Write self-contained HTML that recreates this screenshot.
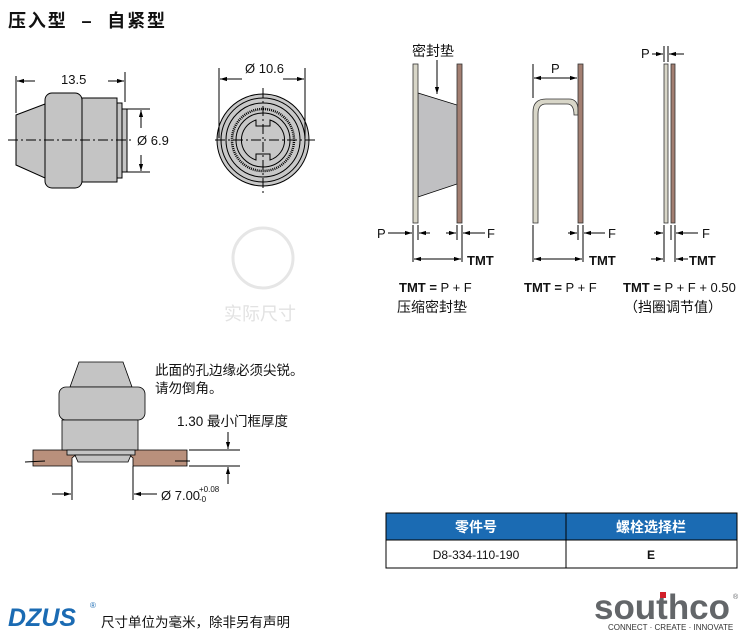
<!DOCTYPE html>
<html><head><meta charset="utf-8"><style>
html,body{margin:0;padding:0;background:#fff}
svg{display:block}
text{font-family:"Liberation Sans","Noto Sans CJK SC",sans-serif;fill:#111}
</style></head><body>
<svg width="747" height="644" viewBox="0 0 747 644" xmlns="http://www.w3.org/2000/svg">
<defs>
<marker id="a" viewBox="0 0 10 10" refX="10" refY="5" markerWidth="7" markerHeight="7" orient="auto-start-reverse"><path d="M0,2 L10,5 L0,8z" fill="#000"/></marker>
</defs>
<text x="8" y="27" font-size="18" font-weight="bold" textLength="157" lengthAdjust="spacing">压入型 &#160;– &#160;自紧型</text>

<!-- side view -->
<g stroke="#000" stroke-width="1" fill="#c4c4c4">
<path d="M16,115 L45,104 L45,178 L16,165 Z"/>
<rect x="45" y="93" width="37" height="95" rx="7"/>
<rect x="82" y="98" width="35" height="84"/>
<rect x="117" y="103" width="5" height="75"/>
<rect x="122" y="109" width="5" height="63"/>
</g>
<g stroke="#000" stroke-width="1" fill="none">
<line x1="8" y1="140" x2="133" y2="140" stroke-dasharray="10,3,2,3"/>
<line x1="16" y1="76" x2="16" y2="113"/><line x1="125" y1="72" x2="125" y2="102"/>
<line x1="35" y1="81" x2="17" y2="81" marker-end="url(#a)"/>
<line x1="108" y1="81" x2="124" y2="81" marker-end="url(#a)"/>
<line x1="127" y1="109" x2="150" y2="109"/><line x1="127" y1="172" x2="150" y2="172"/>
<line x1="141" y1="128" x2="141" y2="110" marker-end="url(#a)"/>
<line x1="141" y1="155" x2="141" y2="171" marker-end="url(#a)"/>
</g>
<text x="61" y="84" font-size="13">13.5</text>
<text x="137" y="145" font-size="13">Ø 6.9</text>

<!-- front view -->
<g stroke="#000" fill="#c8c8c8" stroke-width="1">
<circle cx="263" cy="140" r="46"/>
<circle cx="263" cy="140" r="42" fill="none"/>
<circle cx="263" cy="140" r="37" fill="none"/>
<circle cx="263" cy="140" r="31" fill="none" stroke-width="2.5" stroke-dasharray="1,1"/>
<circle cx="263" cy="140" r="27" fill="none"/>
<path d="M256,120 L256,126 L270,126 L270,120 A21,21 0 0 1 270,160 L270,154 L256,154 L256,160 A21,21 0 0 1 256,120 Z"/>
</g>
<g stroke="#000" fill="none">
<line x1="215" y1="140" x2="316" y2="140" stroke-dasharray="10,3,2,3"/>
<line x1="263" y1="88" x2="263" y2="195" stroke-dasharray="10,3,2,3"/>
<line x1="219" y1="68" x2="219" y2="138"/><line x1="305" y1="68" x2="305" y2="138"/>
<line x1="242" y1="79" x2="220" y2="79" marker-end="url(#a)"/>
<line x1="283" y1="79" x2="304" y2="79" marker-end="url(#a)"/>
</g>
<text x="245" y="73" font-size="13">Ø 10.6</text>

<!-- watermark -->
<circle cx="263" cy="258" r="30" fill="none" stroke="#e6e6e6" stroke-width="3"/>
<text x="224" y="320" font-size="18" style="fill:#e2e2e2">实际尺寸</text>

<!-- diagram 1 -->
<path d="M418,93 L457,105 L457,184 L418,197 Z" fill="#c0c0c2" stroke="#000" stroke-width="0.8"/>
<rect x="413" y="64" width="5" height="159" fill="#d8d6c8" stroke="#333" stroke-width="0.8"/>
<rect x="457" y="64" width="5" height="159" fill="#a37f72" stroke="#333" stroke-width="0.8"/>
<text x="412" y="56" font-size="14">密封垫</text>
<line x1="437" y1="60" x2="437" y2="94" stroke="#000" marker-end="url(#a)"/>
<g stroke="#000" fill="none">
<line x1="413" y1="225" x2="413" y2="262"/><line x1="418" y1="225" x2="418" y2="240"/>
<line x1="457" y1="225" x2="457" y2="240"/><line x1="462" y1="225" x2="462" y2="262"/>
<line x1="388" y1="233" x2="412" y2="233" marker-end="url(#a)"/>
<line x1="430" y1="233" x2="419" y2="233" marker-end="url(#a)"/>
<line x1="446" y1="233" x2="456" y2="233" marker-end="url(#a)"/>
<line x1="485" y1="233" x2="463" y2="233" marker-end="url(#a)"/>
<line x1="414" y1="259" x2="461" y2="259" marker-start="url(#a)" marker-end="url(#a)"/>
</g>
<text x="377" y="238" font-size="13">P</text>
<text x="487" y="238" font-size="13">F</text>
<text x="467" y="265" font-size="13" font-weight="bold">TMT</text>
<text x="399" y="292" font-size="13"><tspan font-weight="bold">TMT =</tspan> P + F</text>
<text x="397" y="312" font-size="14">压缩密封垫</text>

<!-- diagram 2 -->
<path d="M533,223 L533,112 Q533,99 546,99 L569,99 Q578,99 578,110 L578,115 L574,115 Q574,104 567,104 L546,104 Q538,104 538,114 L538,223 Z" fill="#d8d6c8" stroke="#333" stroke-width="0.8"/>
<rect x="578" y="64" width="5" height="159" fill="#a37f72" stroke="#333" stroke-width="0.8"/>
<g stroke="#000" fill="none">
<line x1="533" y1="64" x2="533" y2="98"/>
<line x1="534" y1="78" x2="577" y2="78" marker-start="url(#a)" marker-end="url(#a)"/>
<line x1="533" y1="225" x2="533" y2="262"/>
<line x1="578" y1="225" x2="578" y2="240"/><line x1="583" y1="225" x2="583" y2="262"/>
<line x1="568" y1="233" x2="577" y2="233" marker-end="url(#a)"/>
<line x1="605" y1="233" x2="584" y2="233" marker-end="url(#a)"/>
<line x1="534" y1="259" x2="582" y2="259" marker-start="url(#a)" marker-end="url(#a)"/>
</g>
<text x="551" y="73" font-size="13">P</text>
<text x="608" y="238" font-size="13">F</text>
<text x="589" y="265" font-size="13" font-weight="bold">TMT</text>
<text x="524" y="292" font-size="13"><tspan font-weight="bold">TMT =</tspan> P + F</text>

<!-- diagram 3 -->
<rect x="664" y="64" width="4" height="159" fill="#d8d6c8" stroke="#333" stroke-width="0.8"/>
<rect x="671" y="64" width="4" height="159" fill="#a37f72" stroke="#333" stroke-width="0.8"/>
<g stroke="#000" fill="none">
<line x1="664" y1="46" x2="664" y2="62"/><line x1="668" y1="46" x2="668" y2="62"/>
<line x1="652" y1="54" x2="663" y2="54" marker-end="url(#a)"/>
<line x1="684" y1="54" x2="669" y2="54" marker-end="url(#a)"/>
<line x1="664" y1="225" x2="664" y2="262"/><line x1="671" y1="225" x2="671" y2="240"/>
<line x1="675" y1="225" x2="675" y2="262"/>
<line x1="654" y1="233" x2="663" y2="233" marker-end="url(#a)"/>
<line x1="698" y1="233" x2="676" y2="233" marker-end="url(#a)"/>
<line x1="651" y1="259" x2="663" y2="259" marker-end="url(#a)"/>
<line x1="688" y1="259" x2="676" y2="259" marker-end="url(#a)"/>
</g>
<text x="641" y="58" font-size="13">P</text>
<text x="702" y="238" font-size="13">F</text>
<text x="689" y="265" font-size="13" font-weight="bold">TMT</text>
<text x="623" y="292" font-size="13"><tspan font-weight="bold">TMT =</tspan> P + F + 0.50</text>
<text x="624" y="312" font-size="14">（挡圈调节值）</text>

<!-- installed view -->
<g stroke="#000" stroke-width="0.8">
<path d="M33,450 L187,450 L187,466 L133,466 L133,458 L128,454 L77,454 L72,458 L72,466 L33,466 Z" fill="#b9907c"/>
<path d="M79,362 L123,362 L132,387 L70,387 Z" fill="#c4c4c4"/>
<rect x="59" y="387" width="86" height="33" rx="7" fill="#c4c4c4"/>
<rect x="62" y="420" width="76" height="30" fill="#c4c4c4"/>
<rect x="67" y="450" width="68" height="5" fill="#c4c4c4"/>
<path d="M75,455 L131,455 L128,462 L78,462 Z" fill="#c4c4c4"/>
</g>
<g stroke="#000" fill="none">
<line x1="25" y1="462" x2="45" y2="461"/><line x1="175" y1="461" x2="190" y2="461"/>
<line x1="189" y1="450" x2="240" y2="450"/><line x1="189" y1="466" x2="240" y2="466"/>
<line x1="228" y1="432" x2="228" y2="449" marker-end="url(#a)"/>
<line x1="228" y1="484" x2="228" y2="467" marker-end="url(#a)"/>
<line x1="72" y1="466" x2="72" y2="500"/><line x1="133" y1="466" x2="133" y2="500"/>
<line x1="52" y1="494" x2="71" y2="494" marker-end="url(#a)"/>
<line x1="157" y1="494" x2="134" y2="494" marker-end="url(#a)"/>
</g>
<text x="155" y="375" font-size="13.5">此面的孔边缘必须尖锐。</text>
<text x="155" y="393" font-size="13.5">请勿倒角。</text>
<text x="177" y="426" font-size="13.5">1.30 最小门框厚度</text>
<text x="161" y="500" font-size="13">Ø 7.00</text>
<text x="199" y="492" font-size="8">+0.08</text>
<text x="199" y="502" font-size="8">-0</text>

<!-- table -->
<rect x="386" y="513" width="351" height="27" fill="#1b6bb3"/>
<rect x="386" y="513" width="351" height="55" fill="none" stroke="#000" stroke-width="1"/>
<line x1="386" y1="540" x2="737" y2="540" stroke="#000"/>
<line x1="566" y1="513" x2="566" y2="568" stroke="#000"/>
<text x="476" y="532" font-size="14" font-weight="bold" text-anchor="middle" style="fill:#fff">零件号</text>
<text x="651" y="532" font-size="14" font-weight="bold" text-anchor="middle" style="fill:#fff">螺栓选择栏</text>
<text x="476" y="559" font-size="12" text-anchor="middle">D8-334-110-190</text>
<text x="651" y="559" font-size="12" font-weight="bold" text-anchor="middle">E</text>

<!-- footer -->
<text x="8" y="626" font-size="25" font-weight="bold" font-style="italic" style="fill:#1b6bb3">DZUS</text>
<text x="90" y="608" font-size="8" style="fill:#1b6bb3">®</text>
<text x="101" y="627" font-size="13.5">尺寸单位为毫米，除非另有声明</text>
<text x="594" y="619" font-size="35" font-weight="bold" style="fill:#636669" textLength="136" lengthAdjust="spacingAndGlyphs">southco</text>
<rect x="660" y="592" width="6" height="6" fill="#d21f2a"/>
<text x="733" y="599" font-size="7" style="fill:#636669">®</text>
<text x="608" y="630" font-size="8" style="fill:#333">CONNECT · CREATE · INNOVATE</text>
</svg>
</body></html>
